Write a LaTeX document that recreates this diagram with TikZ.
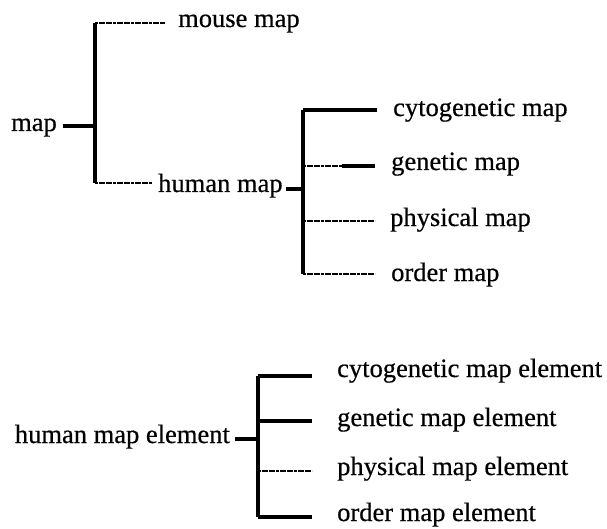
\documentclass[tikz,border=0pt]{standalone}
\usepackage{fontspec}
\setmainfont[FakeBold=0.5]{Liberation Serif}
\usetikzlibrary{calc}
\begin{document}
\begin{tikzpicture}[x=1pt,y=-1pt,
  lbl/.style={anchor=base west,inner sep=0pt,font=\fontsize{26.5}{30}\selectfont},
  lblr/.style={anchor=base east,inner sep=0pt,font=\fontsize{26.5}{30}\selectfont},
  thickln/.style={line width=3.2pt,line cap=butt},
  thinln/.style={line width=1.8pt,dash pattern=on 3pt off 0.6pt},
]
\useasboundingbox (0,0) rectangle (607,529);
% ---------- top tree ----------
\node[lblr] (map) at (57,131) {map};
\node[lbl] (mouse) at (178,27) {mouse map};
\node[lbl] (human) at (158,192) {human map};
\node[lbl] (cyto) at (393,116) {cytogenetic map};
\node[lbl] (gen) at (391,170) {genetic map};
\node[lbl] (phys) at (390,226) {physical map};
\node[lbl] (ord) at (391,281) {order map};

\coordinate (a1) at (95,23);
\coordinate (a2) at (95,126);
\coordinate (a3) at (95,183);
\draw[thickln] (a1) -- (a3);
\draw[thickln,shorten <=6pt] (map.east |- a2) -- (a2);
\draw[thinln,shorten >=13pt] (a1) -- (a1 -| mouse.west);
\draw[thinln,shorten >=6pt] (a3) -- (a3 -| human.west);

\coordinate (b1) at (303,110);
\coordinate (b0) at (303,189);
\coordinate (b2) at (303,166);
\coordinate (b3) at (303,221);
\coordinate (b4) at (303,274);
\draw[thickln] (b1) -- (b4);
\draw[thickln,shorten <=3pt] (human.east |- b0) -- (b0);
\draw[thickln,shorten >=16pt] (b1) -- (b1 -| cyto.west);
\draw[thinln] (b2) -- ($(b2)!0.45!(b2 -| gen.west)$);
\draw[thickln,shorten >=16pt] ($(b2)!0.44!(b2 -| gen.west)$) -- (b2 -| gen.west);
\draw[thinln,shorten >=15pt] (b3) -- (b3 -| phys.west);
\draw[thinln,shorten >=16pt] (b4) -- (b4 -| ord.west);

% ---------- bottom tree ----------
\node[lblr] (hme) at (230,443) {human map element};
\node[lbl] (cme) at (337,377) {cytogenetic map element};
\node[lbl] (gme) at (337,426) {genetic map element};
\node[lbl] (pme) at (337,475) {physical map element};
\node[lbl] (ome) at (337,521) {order map element};

\coordinate (c1) at (258,376);
\coordinate (c0) at (258,439);
\coordinate (c2) at (258,421);
\coordinate (c3) at (258,471);
\coordinate (c4) at (258,517);
\draw[thickln] (c1) -- (c4);
\draw[thickln,shorten <=5pt] (hme.east |- c0) -- (c0);
\draw[thickln,shorten >=25pt] (c1) -- (c1 -| cme.west);
\draw[thickln,shorten >=25pt] (c2) -- (c2 -| gme.west);
\draw[thinln,shorten >=25pt] (c3) -- (c3 -| pme.west);
\draw[thickln,shorten >=25pt] (c4) -- (c4 -| ome.west);
\end{tikzpicture}
\end{document}
